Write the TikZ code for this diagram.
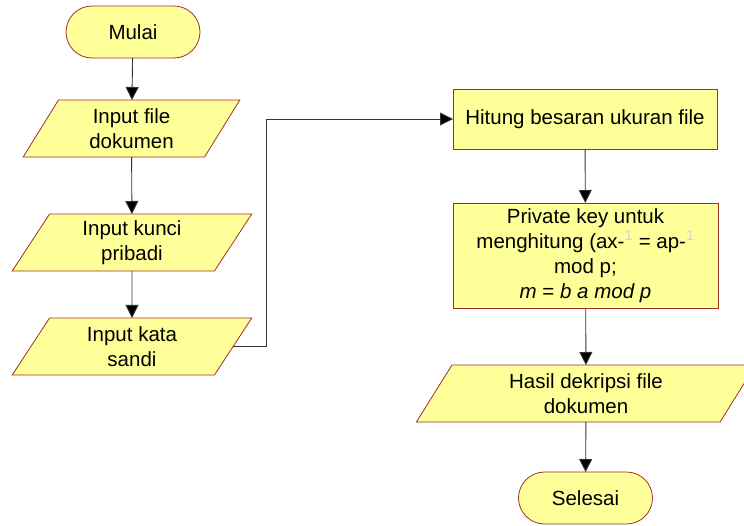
\documentclass[tikz,border=0pt]{standalone}
\usepackage{fontspec}
\setmainfont{Liberation Sans}
\usetikzlibrary{shapes.geometric,arrows.meta}
\definecolor{fillY}{HTML}{FFFF99}
\definecolor{edgeR}{HTML}{A0302A}
\begin{document}
\begin{tikzpicture}[x=1pt,y=-1pt,
 base/.style={draw=edgeR, fill=fillY, line width=0.8pt, inner sep=0pt, outer sep=0pt, align=center, font=\fontsize{20.5}{25}\selectfont},
 term/.style={base, rectangle, rounded corners=26pt, minimum width=134pt, minimum height=52pt},
 io/.style={base, trapezium, trapezium left angle=63, trapezium right angle=117, trapezium stretches=true, minimum height=57pt},
 proc/.style={base, rectangle},
 conn/.style={draw=black!80, line width=0.9pt, -{Triangle[width=13pt,length=13pt,fill=black]}}]
\useasboundingbox (0,0) rectangle (744,525);

\node[term] (mulai) at (133,32) {Mulai};
\node[io, minimum width=217pt] (file) at (131.5,128.5) {Input file\\dokumen};
\node[io, minimum width=240pt] (kunci) at (132,242.5) {Input kunci\\pribadi};
\node[io, minimum width=240pt] (kata) at (132,346.5) {Input kata\\sandi};

\node[proc, minimum width=264pt, minimum height=60pt] (hitung) at (585,119) {Hitung besaran ukuran file};
\node[proc, minimum width=265pt, minimum height=105pt] (priv) at (585.5,255.5)
 {Private key untuk\\menghitung (ax-{\color{gray!35}\textsuperscript{1}} = ap-{\color{gray!35}\textsuperscript{1}}\\mod p;\\\textit{m} = \textit{b a mod p}};
\node[io, minimum width=340pt] (hasil) at (586,393.5) {Hasil dekripsi file\\dokumen};
\node[term] (selesai) at (585.5,498) {Selesai};

\coordinate (bend) at (266,119);

\draw[conn] (mulai) -- (file);
\draw[conn] (file) -- (kunci);
\draw[conn] (kunci) -- (kata);
\draw[conn] (kata.east) -| (bend) -- (hitung.west);
\draw[conn] (hitung) -- (priv);
\draw[conn] (priv) -- (hasil);
\draw[conn] (hasil) -- (selesai);
\end{tikzpicture}
\end{document}
